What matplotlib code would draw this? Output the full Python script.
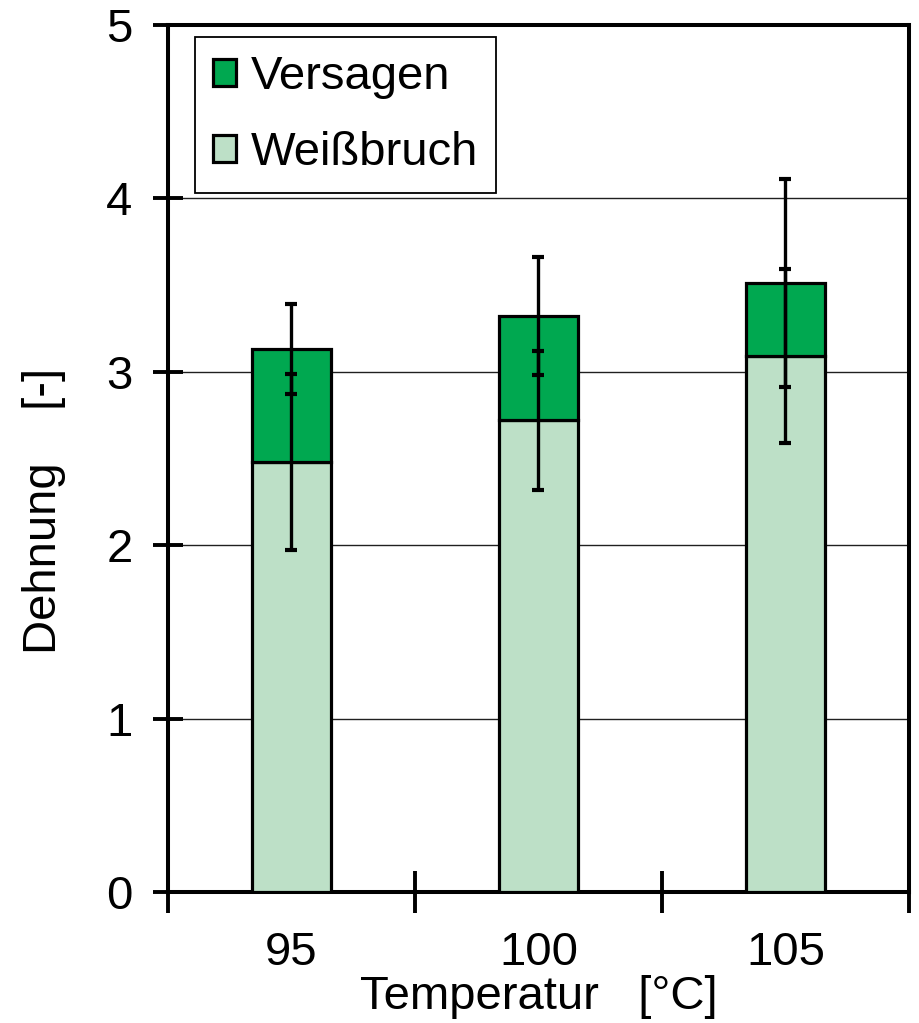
import numpy as np
import matplotlib
matplotlib.use("Agg")
import matplotlib.pyplot as plt

plt.rcParams['font.family'] = ['Liberation Sans', 'DejaVu Sans']

temperatures = ['95', '100', '105']
weissbruch = [2.48, 2.72, 3.09]
weissbruch_err = [0.51, 0.40, 0.50]
gesamt = [3.13, 3.32, 3.51]
gesamt_err = [0.26, 0.34, 0.60]

versagen = np.array(gesamt) - np.array(weissbruch)
x = np.arange(len(temperatures))
fs = 34

fig = plt.figure(figsize=(9.2, 10.23), dpi=100)
ax = fig.add_axes([0.1826, 0.128, 0.8054, 0.8476])

ax.bar(x, weissbruch, width=0.32, color='#BDE0C7', edgecolor='black',
       linewidth=2.3, label='Weißbruch', zorder=3)
ax.bar(x, versagen, bottom=weissbruch, width=0.32, color='#00A850',
       edgecolor='black', linewidth=2.3, label='Versagen', zorder=3)

ax.errorbar(x, weissbruch, yerr=weissbruch_err, fmt='none', ecolor='black',
            elinewidth=2.4, capsize=4.5, capthick=3, zorder=4)
ax.errorbar(x, gesamt, yerr=gesamt_err, fmt='none', ecolor='black',
            elinewidth=2.4, capsize=4.5, capthick=3, zorder=4)

ax.set_xlim(-0.5, 2.5)
ax.set_ylim(0, 5)
ax.set_yticks(range(6))
ax.yaxis.grid(True, color='#202020', linewidth=1.0, zorder=0)
ax.set_axisbelow(True)

# category boundaries as major ticks, labels on minor ticks
ax.set_xticks([-0.5, 0.5, 1.5, 2.5])
ax.set_xticklabels([])
ax.set_xticks(x, minor=True)
ax.set_xticklabels(temperatures, minor=True)
ax.tick_params(axis='x', which='major', direction='inout', length=30, width=2.8)
ax.tick_params(axis='x', which='minor', length=0, pad=28, labelsize=fs)
ax.tick_params(axis='y', direction='inout', length=21, width=2.8, pad=15,
               labelsize=fs)

for s in ax.spines.values():
    s.set_linewidth(2.9)

ax.set_xlabel('Temperatur   [°C]', fontsize=fs, labelpad=0)
ax.set_ylabel('Dehnung    [-]', fontsize=fs)
ax.yaxis.set_label_coords(-0.138, 0.44)

h, l = ax.get_legend_handles_labels()
leg = ax.legend(h[::-1], l[::-1], loc='upper left', bbox_to_anchor=(0.036, 0.986),
                borderaxespad=0, fontsize=fs, handlelength=0.5, handleheight=0.5,
                handletextpad=0.3, labelspacing=0.68, borderpad=0.38,
                fancybox=False, edgecolor='black', framealpha=1)
leg.get_frame().set_linewidth(1.3)

fig.savefig('out.png', dpi=100)
